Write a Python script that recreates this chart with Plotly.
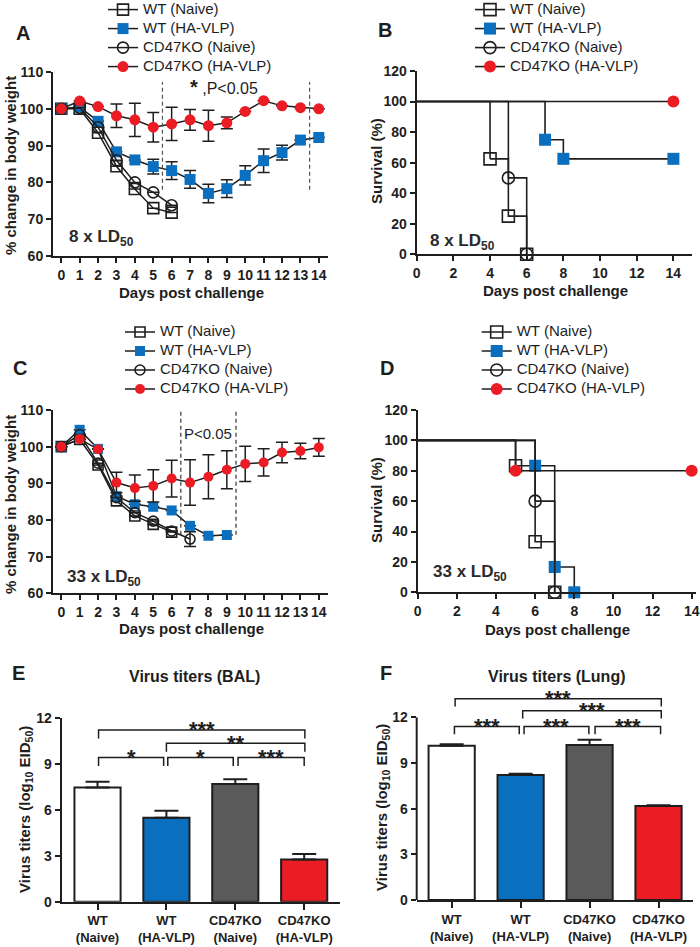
import plotly.graph_objects as go

# ---------------- data ----------------
days = list(range(15))
series_names = ["WT (Naive)", "WT (HA-VLP)", "CD47KO (Naive)", "CD47KO (HA-VLP)"]

# Panel A: % body weight, 8 x LD50
a_wt_naive = [100, 100, 93.5, 84.4, 78.2, 73.0, 71.8]
a_wt_naive_err = [None] * 7
a_ko_naive = [100, 100.3, 95.0, 86.0, 80.0, 77.3, 73.8]
a_ko_naive_err = [None] * 7
a_wt_vlp = [100, 100.5, 96.6, 88.3, 86.1, 84.3, 83.2, 80.8, 77.0, 78.3, 81.9, 85.9, 88.1, 91.5, 92.2]
a_wt_vlp_err = [None, None, None, None, None, 2.0, 2.4, 2.4, 2.5, 2.4, 2.6, 3.2, 2.0, None, None]
a_ko_vlp = [100, 102.1, 100.6, 98.1, 97.0, 95.0, 95.9, 97.0, 95.4, 96.2, 99.3, 102.2, 100.8, 100.3, 100.0]
a_ko_vlp_err = [None, None, None, 3.2, 4.5, 4.0, 4.5, 2.8, 4.2, 1.6, None, None, None, None, None]

# Panel C: % body weight, 33 x LD50
c_wt_naive = [100, 102.0, 95.0, 85.2, 81.1, 78.8, 76.7]
c_wt_naive_err = [None] * 7
c_ko_naive = [100, 103.3, 95.5, 86.1, 82.0, 79.7, 77.0, 74.8]
c_ko_naive_err = [None] * 7 + [2.0]
c_wt_vlp = [100, 104.6, 99.4, 86.5, 84.3, 83.6, 82.6, 78.4, 75.7, 75.9]
c_wt_vlp_err = [None] * 10
c_ko_vlp = [100, 102.1, 99.3, 90.2, 88.7, 89.3, 91.3, 90.2, 91.8, 93.7, 95.3, 95.7, 98.4, 98.8, 99.8]
c_ko_vlp_err = [None, None, None, 2.8, 3.6, 4.4, 5.0, 6.2, 6.0, 5.2, 4.8, 3.7, 2.8, 2.1, 2.4]

# Panel B: survival (%), 8 x LD50 (step points)
b_wt_naive_x = [0, 4, 5, 6]
b_wt_naive_y = [100, 62.5, 25, 0]
b_wt_vlp_x = [0, 7, 8, 14]
b_wt_vlp_y = [100, 75, 62.5, 62.5]
b_ko_naive_x = [0, 5, 6]
b_ko_naive_y = [100, 50, 0]
b_ko_vlp_x = [0, 14]
b_ko_vlp_y = [100, 100]

# Panel D: survival (%), 33 x LD50
d_wt_naive_x = [0, 5, 6, 7]
d_wt_naive_y = [100, 83.3, 33.3, 0]
d_wt_vlp_x = [0, 6, 7, 8]
d_wt_vlp_y = [100, 83.3, 16.7, 0]
d_ko_naive_x = [0, 6, 7]
d_ko_naive_y = [100, 60, 0]
d_ko_vlp_x = [0, 5, 14]
d_ko_vlp_y = [100, 80, 80]

# Panels E/F: virus titers (log10 EID50)
groups = ["WT<br>(Naive)", "WT<br>(HA-VLP)", "CD47KO<br>(Naive)", "CD47KO<br>(HA-VLP)"]
bal_titer = [7.45, 5.48, 7.68, 2.76]
bal_sem = [0.37, 0.45, 0.30, 0.35]
lung_titer = [10.13, 8.22, 10.18, 6.18]
lung_sem = [0.10, 0.07, 0.35, 0.04]

# significance brackets: (from, to, height, label)
bal_sig = [(0.015, 3.01, 11.2, "***"), (1.0, 3.01, 10.33, "**"),
           (0.015, 0.96, 9.4, "*"), (1.02, 1.97, 9.4, "*"), (2.04, 3.0, 9.4, "***")]
lung_sig = [(0.05, 3.04, 13.22, "***"), (1.03, 3.04, 12.43, "***"),
            (0.04, 0.98, 11.4, "***"), (1.05, 1.99, 11.4, "***"), (2.08, 3.03, 11.4, "***")]

# significance windows on weight panels
a_window_x = [5.5, 13.5]
a_window_y = [78, 107.3]
c_window_x = [6.5, 9.5]
c_window_y = [76, 110]

# ---------------- styling ----------------
BLUE = "#0a6fbf"
RED = "#ec1c24"
GRAY = "#5a5a5a"
INK = "#1e1e1e"
FONT = "Liberation Sans, Arial, sans-serif"
W, H = 700, 947


def px(x):
    return x / W


def py(y):
    return 1 - y / H


styles = [
    dict(symbol="square-open", color=INK, lw=1.6),
    dict(symbol="square", color=BLUE, lw=0),
    dict(symbol="circle-open", color=INK, lw=1.6),
    dict(symbol="circle", color=RED, lw=0),
]

fig = go.Figure()


def leg_name(name, fs):
    return f"<span style='font-size:{fs}px'>{name}</span>"


def mk(st, size):
    return dict(symbol=st["symbol"], size=size, color=st["color"],
                line=dict(color=INK if st["lw"] else st["color"], width=st["lw"]))


def add_weight(xa, ya, legend, data, size, fs):
    for name, (y, err), st in zip(series_names, data, styles):
        x = days[:len(y)]
        fig.add_trace(go.Scatter(
            x=x, y=y, mode="lines+markers", name=leg_name(name, fs),
            xaxis=xa, yaxis=ya, legend=legend, cliponaxis=False,
            line=dict(color=INK, width=1.5), marker=mk(st, size),
            error_y=dict(type="data", array=err, visible=True, color=INK, thickness=1.5, width=6),
        ))


def add_surv(xa, ya, legend, data, size, fs):
    for name, (x, y), st in zip(series_names, data, styles):
        # initial plateau and first drop (no symbol at time 0)
        fig.add_trace(go.Scatter(
            x=x[:2], y=y[:2], mode="lines", showlegend=False, xaxis=xa, yaxis=ya,
            line=dict(color=INK, width=1.6, shape="hv"), hoverinfo="skip"))
        # remaining steps with symbols at each event / censor point
        fig.add_trace(go.Scatter(
            x=x[1:], y=y[1:], mode="lines+markers", name=leg_name(name, fs),
            xaxis=xa, yaxis=ya, legend=legend, cliponaxis=False,
            line=dict(color=INK, width=1.6, shape="hv"), marker=mk(st, size)))


add_weight("x", "y", "legend",
           [(a_wt_naive, a_wt_naive_err), (a_wt_vlp, a_wt_vlp_err),
            (a_ko_naive, a_ko_naive_err), (a_ko_vlp, a_ko_vlp_err)], 11, 15)
add_surv("x2", "y2", "legend2",
         [(b_wt_naive_x, b_wt_naive_y), (b_wt_vlp_x, b_wt_vlp_y),
          (b_ko_naive_x, b_ko_naive_y), (b_ko_vlp_x, b_ko_vlp_y)], 12, 15)
add_weight("x3", "y3", "legend3",
           [(c_wt_naive, c_wt_naive_err), (c_wt_vlp, c_wt_vlp_err),
            (c_ko_naive, c_ko_naive_err), (c_ko_vlp, c_ko_vlp_err)], 10, 15)
add_surv("x4", "y4", "legend4",
         [(d_wt_naive_x, d_wt_naive_y), (d_wt_vlp_x, d_wt_vlp_y),
          (d_ko_naive_x, d_ko_naive_y), (d_ko_vlp_x, d_ko_vlp_y)], 12, 15)

bar_colors = ["#ffffff", BLUE, GRAY, RED]
for xa, ya, vals, errs in [("x5", "y5", bal_titer, bal_sem), ("x6", "y6", lung_titer, lung_sem)]:
    fig.add_trace(go.Bar(
        x=list(range(len(groups))), y=vals, xaxis=xa, yaxis=ya, showlegend=False,
        width=0.67, marker=dict(color=bar_colors, line=dict(color=INK, width=2)),
        error_y=dict(type="data", array=errs, arrayminus=[0] * len(errs), symmetric=False,
                     visible=True, color=INK, thickness=2, width=12),
    ))

tickfont = dict(family=FONT, size=14, color=INK, weight="bold")


def ax(**kw):
    base = dict(showline=True, linewidth=2, linecolor=INK, ticks="outside", ticklen=5,
                tickwidth=2, tickcolor=INK, showgrid=False, zeroline=False,
                tickfont=tickfont, fixedrange=True, tickangle=0, ticklabeloverflow="allow")
    base.update(kw)
    return base


catfont = dict(family=FONT, size=13, color=INK, weight="bold")
layout = dict(
    width=W, height=H, paper_bgcolor="white", plot_bgcolor="white",
    margin=dict(l=0, r=0, t=0, b=0, autoexpand=False),
    font=dict(family=FONT, color=INK),
    # A
    xaxis=ax(domain=[px(53), px(328)], range=[-0.45, 14.5], tickvals=days, anchor="y"),
    yaxis=ax(domain=[py(256), py(72)], range=[60, 110], tickvals=[60, 70, 80, 90, 100, 110], anchor="x"),
    # B
    xaxis2=ax(domain=[px(416.7), px(691.7)], range=[0, 15], tickvals=list(range(0, 15, 2)), anchor="y2"),
    yaxis2=ax(domain=[py(254.3), py(71)], range=[0, 120], tickvals=list(range(0, 121, 20)), anchor="x2"),
    # C
    xaxis3=ax(domain=[px(53), px(328)], range=[-0.45, 14.5], tickvals=days, anchor="y3"),
    yaxis3=ax(domain=[py(593.3), py(410)], range=[60, 110], tickvals=[60, 70, 80, 90, 100, 110], anchor="x3"),
    # D
    xaxis4=ax(domain=[px(417.7), px(696)], range=[0, 14.22], tickvals=list(range(0, 15, 2)), anchor="y4"),
    yaxis4=ax(domain=[py(592.3), py(410)], range=[0, 120], tickvals=list(range(0, 121, 20)), anchor="x4"),
    # E
    xaxis5=ax(domain=[px(61.7), px(340)], range=[-0.52, 3.52], tickvals=list(range(4)), ticktext=groups,
              ticklen=6, tickfont=catfont, anchor="y5"),
    yaxis5=ax(domain=[py(901.7), py(717.7)], range=[0, 12], tickvals=[0, 3, 6, 9, 12], anchor="x5"),
    # F
    xaxis6=ax(domain=[px(416.7), px(693)], range=[-0.507, 3.5], tickvals=list(range(4)), ticktext=groups,
              ticklen=6, tickfont=catfont, anchor="y6"),
    yaxis6=ax(domain=[py(900), py(690)], range=[0, 13.8], tickvals=[0, 3, 6, 9, 12], showline=False, anchor="x6"),
)

legend_common = dict(xanchor="left", yanchor="top", bgcolor="rgba(0,0,0,0)",
                     font=dict(family=FONT, size=11, color=INK), tracegroupgap=0, itemsizing="trace")
layout["legend"] = dict(x=px(103), y=1.0052, **legend_common)
layout["legend2"] = dict(x=px(470), y=1.0052, **legend_common)
layout["legend3"] = dict(x=px(120), y=py(317.5), **legend_common)
layout["legend4"] = dict(x=px(476.7), y=py(317.5), **legend_common)

fig.update_layout(**layout)

shapes = []
annotations = []

# F y-axis line only up to 12
shapes.append(dict(type="line", xref="x6 domain", yref="y6", x0=0, x1=0, y0=0, y1=12,
                   line=dict(color=INK, width=2)))

# dashed significance windows
for xv in a_window_x:
    shapes.append(dict(type="line", xref="x", yref="y", x0=xv, x1=xv, y0=a_window_y[0], y1=a_window_y[1],
                       line=dict(color="#555555", width=1.2, dash="4px,3px")))
for xv in c_window_x:
    shapes.append(dict(type="line", xref="x3", yref="y3", x0=xv, x1=xv, y0=c_window_y[0], y1=c_window_y[1],
                       line=dict(color="#333333", width=1.2, dash="4px,3px")))

# brackets
for xa, ya, sig, drop in [("x5", "y5", bal_sig, 0.55), ("x6", "y6", lung_sig, 0.5)]:
    for x0, x1, yv, lab in sig:
        shapes.append(dict(type="path", xref=xa, yref=ya,
                           path=f"M {x0},{yv - drop} L {x0},{yv} L {x1},{yv} L {x1},{yv - drop}",
                           line=dict(color=INK, width=1.5)))
        annotations.append(dict(xref=xa, yref=ya, x=(x0 + x1) / 2, y=yv, text=f"<b>{lab}</b>",
                                showarrow=False, xanchor="center", yanchor="middle",
                                font=dict(family=FONT, size=22, color=INK)))


def note(x, y, text, size, bold=False, angle=0, xanchor="center", yanchor="middle", color=INK):
    annotations.append(dict(xref="paper", yref="paper", x=px(x), y=py(y),
                            text=f"<b>{text}</b>" if bold else text, showarrow=False,
                            xanchor=xanchor, yanchor=yanchor, textangle=angle,
                            font=dict(family=FONT, size=size, color=color)))


# panel letters
for lab, x, y in [("A", 23, 33), ("B", 385, 30), ("C", 20, 368), ("D", 387, 368), ("E", 18, 673), ("F", 386, 673)]:
    note(x, y, lab, 20, bold=True)

# axis titles
for x, y in [(191, 292), (555, 290), (191, 628), (557, 629)]:
    note(x, y, "Days post challenge", 15, bold=True)
note(10, 166, "% change in body weight", 15, bold=True, angle=-90)
note(11, 505, "% change in body weight", 15, bold=True, angle=-90)
note(377, 161, "Survival (%)", 15, bold=True, angle=-90)
note(377, 500, "Survival (%)", 15, bold=True, angle=-90)
note(25, 810, "Virus titers (log<sub>10</sub> EID<sub>50</sub>)", 15, bold=True, angle=-90)
note(382, 808, "Virus titers (log<sub>10</sub> EID<sub>50</sub>)", 15, bold=True, angle=-90)

# panel titles
note(194, 676, "Virus titers (BAL)", 16, bold=True)
note(557, 676, "Virus titers (Lung)", 16, bold=True)

# dose labels
note(67, 238, "8 x LD<sub>50</sub>", 17, bold=True, xanchor="left", color="#2a2a2a")
note(428, 241.7, "8 x LD<sub>50</sub>", 17, bold=True, xanchor="left", color="#2a2a2a")
note(65, 578.3, "33 x LD<sub>50</sub>", 17, bold=True, xanchor="left", color="#2a2a2a")
note(431, 573.3, "33 x LD<sub>50</sub>", 17, bold=True, xanchor="left", color="#2a2a2a")

# p-value notes
note(188, 87, "<span style='font-size:20px;font-weight:bold'>*</span> ,P<0.05", 16, xanchor="left")
note(208, 433, "P<0.05", 15)

fig.update_layout(shapes=shapes, annotations=annotations)
fig.write_html("out.html", config={"displayModeBar": False},
               post_script="document.body.style.margin='0px';")
